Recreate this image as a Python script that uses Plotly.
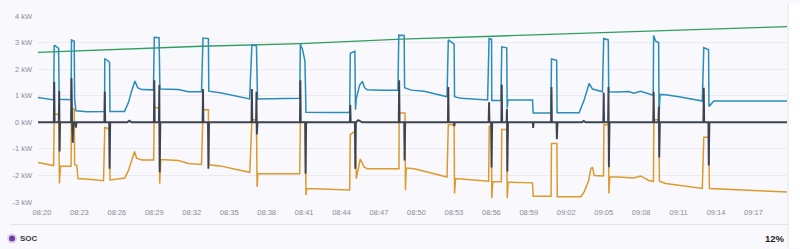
import plotly.graph_objects as go
import pandas as pd

DAY = "2024-01-01 "

# ---------------- data (kW) ----------------
blue_t = ["08:19:41","08:20:19","08:20:56","08:20:59","08:21:20","08:21:23","08:22:20","08:22:22","08:22:35","08:22:37",
          "08:22:43","08:23:36","08:25:01","08:25:02","08:25:12","08:25:25","08:25:27","08:26:37","08:26:56","08:27:12",
          "08:27:27","08:27:40","08:28:00","08:28:56","08:29:00","08:29:23","08:29:27","08:30:56","08:31:44","08:32:47",
          "08:32:54","08:33:20","08:33:22","08:34:23","08:35:35","08:36:38","08:36:49","08:37:11","08:37:16","08:38:47",
          "08:40:39","08:40:42","08:40:52","08:41:04","08:41:09","08:43:11","08:44:39","08:44:42","08:45:04","08:45:07",
          "08:45:11","08:45:27","08:45:40","08:45:51","08:46:04","08:47:11","08:48:31","08:48:35","08:49:01","08:49:03",
          "08:49:35","08:50:37","08:51:25","08:52:27","08:52:33","08:53:01","08:53:03","08:53:34","08:55:42","08:55:49",
          "08:56:01","08:56:02","08:56:46","08:56:50","08:57:14","08:57:16","08:57:20","08:59:18","08:59:21","09:00:46",
          "09:00:49","09:01:14","09:01:16","09:03:02","09:03:26","09:03:47","09:03:50","09:04:06","09:04:54","09:05:00",
          "09:05:22","09:05:24","09:06:12","09:07:00","09:07:24","09:07:58","09:08:36","09:08:58","09:09:00","09:09:10",
          "09:09:24","09:09:26","09:09:31","09:09:58","09:11:09","09:12:54","09:13:01","09:13:24","09:13:26","09:13:49",
          "09:19:41"]
blue_v = [0.93,0.88,0.84,2.90,2.78,0.87,0.85,3.10,3.05,0.87,
          0.43,0.40,0.41,2.38,2.35,2.25,0.41,0.41,0.75,1.20,
          1.55,1.30,1.23,1.22,3.20,3.18,1.25,1.23,1.15,1.15,
          3.17,3.15,1.17,1.10,0.98,0.88,2.91,2.88,0.88,0.88,
          0.90,2.94,2.75,2.30,0.38,0.37,0.37,2.60,2.67,0.47,
          0.90,1.40,1.54,1.30,1.22,1.21,1.21,3.28,3.27,1.30,
          1.21,1.17,1.09,0.96,3.10,2.94,0.96,0.90,0.84,3.15,
          3.12,0.82,0.82,2.84,2.80,0.53,0.84,0.84,0.35,0.35,
          2.38,2.33,0.36,0.36,0.84,1.40,1.46,1.25,1.15,3.15,
          3.10,1.15,1.14,1.16,1.09,1.17,1.09,1.02,3.27,3.05,
          3.00,0.28,1.05,1.04,0.95,0.80,2.81,2.73,0.59,0.80,
          0.80]

orange_t = ["08:19:41","08:20:19","08:20:56","08:20:59","08:21:20","08:21:24","08:21:29","08:22:20","08:22:22","08:22:35",
            "08:22:37","08:22:48","08:22:53","08:24:00","08:24:56","08:25:02","08:25:25","08:25:27","08:26:38","08:26:56",
            "08:27:12","08:27:25","08:27:35","08:28:00","08:28:57","08:29:00","08:29:23","08:29:26","08:29:31","08:30:56",
            "08:31:44","08:32:47","08:32:54","08:33:20","08:33:22","08:34:23","08:35:35","08:36:39","08:36:49","08:37:11",
            "08:37:14","08:37:18","08:40:39","08:40:42","08:41:06","08:41:09","08:41:13","08:43:11","08:44:39","08:44:42",
            "08:45:06","08:45:11","08:45:30","08:45:49","08:46:04","08:48:36","08:48:37","08:49:05","08:49:07","08:49:11",
            "08:49:49","08:50:37","08:52:27","08:52:33","08:53:01","08:53:03","08:53:08","08:54:06","08:55:47","08:55:50",
            "08:56:01","08:56:02","08:56:07","08:56:48","08:56:50","08:57:15","08:57:16","08:57:21","08:59:18","08:59:21",
            "09:00:47","09:00:49","09:01:15","09:01:17","09:03:10","09:03:26","09:03:48","09:03:58","09:04:06","09:04:14",
            "09:04:59","09:05:01","09:05:23","09:05:25","09:05:29","09:06:12","09:07:24","09:07:58","09:08:36","09:08:59",
            "09:09:01","09:09:25","09:09:28","09:09:58","09:11:09","09:12:54","09:13:01","09:13:25","09:13:28","09:19:41"]
orange_v = [-1.51,-1.58,-1.63,0.30,0.30,-2.30,-1.65,-1.65,0.50,0.50,
            -1.60,-1.63,-2.12,-2.15,-2.20,-0.20,-0.25,-2.17,-2.10,-1.81,
            -1.38,-1.10,-1.35,-1.42,-1.42,0.55,0.55,-2.31,-1.40,-1.44,
            -1.55,-1.59,0.47,0.47,-1.60,-1.65,-1.78,-1.88,0.10,0.10,
            -2.43,-1.94,-1.94,0.00,0.00,-2.74,-2.49,-2.52,-2.55,-0.46,
            -0.33,-2.12,-1.38,-1.69,-1.75,-1.75,0.35,0.35,-2.55,-1.72,
            -1.75,-1.84,-2.06,-0.09,-0.09,-2.68,-2.12,-2.15,-2.22,-0.15,
            -0.15,-2.86,-2.24,-2.24,-0.27,-0.27,-2.86,-2.25,-2.28,-2.78,
            -2.78,-0.80,-0.80,-2.80,-2.80,-2.62,-2.19,-1.75,-1.69,-2.00,
            -2.02,-0.09,-0.09,-2.68,-2.06,-2.06,-2.10,-2.02,-2.19,-2.22,
            0.10,0.10,-2.22,-2.30,-2.38,-2.49,-0.56,-0.56,-2.49,-2.62]

green_t = ["08:19:41","08:26:24","08:32:47","08:40:47","08:48:47","08:56:46","09:04:46","09:12:46","09:19:41"]
green_v = [2.63,2.75,2.86,2.96,3.13,3.25,3.38,3.51,3.60]

dark_t = ["08:19:41","08:20:57","08:20:59","08:21:01","08:21:21","08:21:23","08:21:25","08:21:27","08:22:20","08:22:22",
          "08:22:25","08:22:28","08:22:31","08:22:40","08:22:43","08:22:46","08:25:00","08:25:02","08:25:04","08:25:23",
          "08:25:25","08:25:28","08:26:50","08:27:00","08:27:10","08:28:58","08:29:00","08:29:02","08:29:22","08:29:24",
          "08:29:26","08:29:29","08:32:52","08:32:54","08:32:56","08:33:18","08:33:20","08:33:23","08:36:47","08:36:49",
          "08:36:51","08:37:09","08:37:11","08:37:13","08:37:16","08:40:40","08:40:42","08:40:44","08:41:05","08:41:07",
          "08:41:10","08:44:40","08:44:42","08:44:44","08:45:04","08:45:06","08:45:09","08:45:20","08:45:30","08:45:40",
          "08:48:35","08:48:37","08:48:39","08:49:01","08:49:03","08:49:06","08:52:31","08:52:33","08:52:35","08:53:00",
          "08:53:02","08:53:04","08:55:47","08:55:49","08:55:51","08:55:59","08:56:01","08:56:04","08:56:48","08:56:50",
          "08:56:52","08:57:13","08:57:15","08:57:17","08:57:20","08:59:19","08:59:21","08:59:23","09:00:47","09:00:49",
          "09:00:51","09:01:13","09:01:15","09:01:18","09:03:15","09:03:24","09:03:33","09:04:58","09:05:00","09:05:02",
          "09:05:21","09:05:23","09:05:25","09:05:28","09:08:58","09:09:00","09:09:02","09:09:23","09:09:25","09:09:27",
          "09:09:30","09:12:59","09:13:01","09:13:03","09:13:23","09:13:25","09:13:28","09:19:41"]
dark_v = [0,0,1.52,0,0,1.18,-1.10,0,0,1.67,
          0,-0.77,0,0,-0.20,0,0,1.15,0,0,
          -1.75,0,0,0.06,0,0,1.58,0,0,1.40,
          -1.88,0,0,1.25,0,0,-1.75,0,0,1.25,
          0,0,1.15,-0.46,0,0,1.58,0,0,-1.94,
          0,0,0.65,0,0,-1.75,0,0.08,0.03,0,
          0,1.58,0,0,-1.44,0,0,1.33,0,0,
          -0.15,0,0,0.75,0,0,-1.70,0,0,1.42,
          0,0,0.50,-1.85,0,0,-0.21,0,0,1.33,
          0,0,-0.64,0,0,0.05,0,0,1.11,0,
          0,1.33,-1.69,0,0,1.15,0,0,0.59,-1.32,
          0,0,1.30,0,0,-1.63,0,0]

y_ticks = [-3, -2, -1, 0, 1, 2, 3, 4]
y_labels = ["-3 kW", "-2 kW", "-1 kW", "0 kW", "1 kW", "2 kW", "3 kW", "4 kW"]
legend_name = "SOC"
legend_value = "12%"

def ts(lst):
    return pd.to_datetime([DAY + t for t in lst])

# ---------------- figure ----------------
W, H = 800, 249
L, R, T, B = 36, 13, 13, 47
BG = "#f9f8fd"

fig = go.Figure()
fig.add_trace(go.Scatter(x=ts(green_t), y=green_v, mode="lines",
                         line=dict(color="#2f9e5f", width=1.4), hoverinfo="skip"))
fig.add_trace(go.Scatter(x=ts(blue_t), y=blue_v, mode="lines",
                         line=dict(color="#2a8cba", width=1.5), hoverinfo="skip"))
fig.add_trace(go.Scatter(x=ts(orange_t), y=orange_v, mode="lines",
                         line=dict(color="#dc9a2c", width=1.5), hoverinfo="skip"))
fig.add_trace(go.Scatter(x=ts(dark_t), y=dark_v, mode="lines",
                         line=dict(color="#3c4450", width=1.9), hoverinfo="skip"))

tick_font = dict(family="Liberation Sans, Arial, sans-serif", size=7.5, color="#8b8a96")
fig.update_xaxes(range=[pd.Timestamp(DAY + "08:19:41"), pd.Timestamp(DAY + "09:19:41")],
                 tick0=DAY + "08:20:00", dtick=180000, tickformat="%H:%M",
                 showgrid=False, zeroline=False, showline=False, ticks="",
                 tickfont=tick_font, ticklabelstandoff=4)
fig.update_yaxes(range=[-3, 4], tickvals=y_ticks, ticktext=y_labels,
                 showgrid=True, gridcolor="#ebeaf2", gridwidth=1,
                 zeroline=False, showline=False, ticks="",
                 tickfont=tick_font, ticklabelstandoff=5)

pw, ph = W - L - R, H - T - B
def px(x): return (x - L) / pw
def py(y): return (H - B - y) / ph

shapes = [
    dict(type="line", xref="paper", yref="paper", x0=px(8), x1=px(788), y0=py(225), y1=py(225),
         line=dict(color="#e3e1ea", width=1)),
    dict(type="rect", xref="paper", yref="paper", x0=px(788.5), x1=px(800), y0=py(249), y1=py(0),
         fillcolor="#ffffff", line=dict(width=0), layer="below"),
    dict(type="line", xref="paper", yref="paper", x0=px(788), x1=px(788), y0=py(249), y1=py(0),
         line=dict(color="#e6e4ee", width=1)),
    dict(type="circle", xref="paper", yref="paper", x0=px(5), x1=px(15), y0=py(244), y1=py(234),
         fillcolor="#ddd2ef", line=dict(width=0)),
    dict(type="circle", xref="paper", yref="paper", x0=px(7), x1=px(13), y0=py(242), y1=py(236),
         fillcolor="#6a3d9e", line=dict(width=0)),
]
annotations = [
    dict(xref="paper", yref="paper", x=px(16), y=py(239), text="<b>" + legend_name + "</b>",
         showarrow=False, xanchor="left", yanchor="middle",
         font=dict(family="Liberation Sans, Arial, sans-serif", size=8, color="#3a3a44")),
    dict(xref="paper", yref="paper", x=px(787.5), y=py(239.5), text="<b>" + legend_value + "</b>",
         showarrow=False, xanchor="right", yanchor="middle",
         font=dict(family="Liberation Sans, Arial, sans-serif", size=9.5, color="#1f1f24")),
]

fig.update_layout(width=W, height=H, margin=dict(l=L, r=R, t=T, b=B),
                  paper_bgcolor=BG, plot_bgcolor=BG, showlegend=False,
                  shapes=shapes, annotations=annotations)

fig.write_html("out.html", config={"displayModeBar": False})
